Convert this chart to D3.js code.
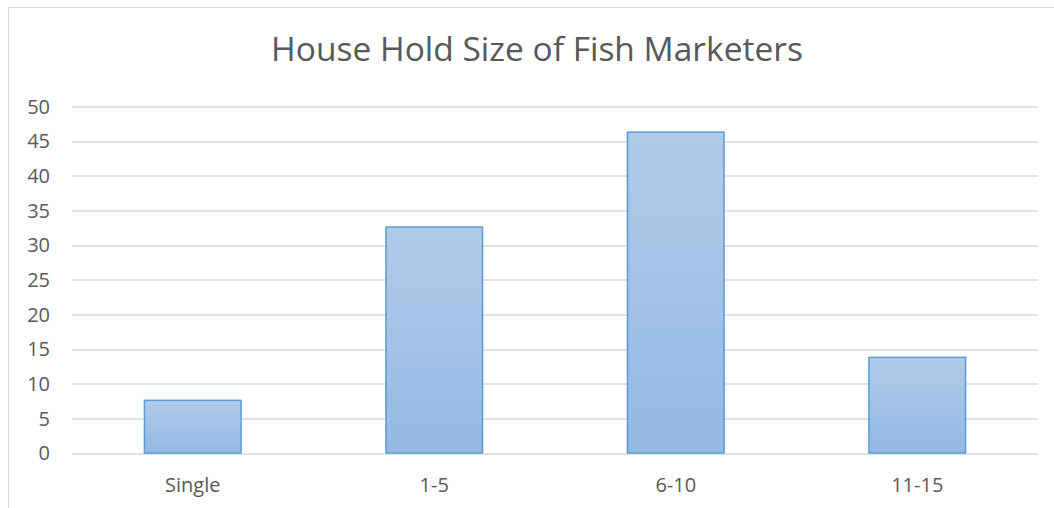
<!DOCTYPE html>
<html>
<head>
<meta charset="utf-8">
<script src="https://cdn.jsdelivr.net/npm/d3@7"></script>
<style>
body{margin:0;background:#fff;}
text{font-family:"Open Sans",sans-serif;fill:#595959;}
</style>
</head>
<body>
<div id="root"></div>
<script>
var categories=['Single','1-5','6-10','11-15'];
var values=[7.6,32.6,46.3,13.8];
var yTicks=[0,5,10,15,20,25,30,35,40,45,50];

var W=1054,H=508;
var b={t:106.5,l:72,r:16,b:55};
var w=W-b.l-b.r, h=H-b.t-b.b;

var svg=d3.select('#root').append('svg').attr('width',W).attr('height',H);

// chart frame
svg.append('rect').attr('x',8.5).attr('y',7.5).attr('width',1060).attr('height',520)
	.attr('fill','none').attr('stroke','#d9d9d9');

var defs=svg.append('defs');
var grad=defs.append('linearGradient').attr('id','barfill').attr('x1',0).attr('y1',0).attr('x2',0).attr('y2',1);
grad.append('stop').attr('offset','0%').attr('stop-color','#b1cbe9');
grad.append('stop').attr('offset','100%').attr('stop-color','#94b9e3');

var g=svg.append('g').attr('transform','translate('+b.l+','+b.t+')');

var x=d3.scaleBand().domain(categories).range([0,w]).paddingInner(0.6).paddingOuter(0.3);
var y=d3.scaleLinear().domain([0,50]).range([h,0]);

g.selectAll('.grid').data(yTicks).enter().append('line')
	.attr('x1',0).attr('x2',w)
	.attr('y1',function(d){return Math.round(y(d))+0.5}).attr('y2',function(d){return Math.round(y(d))+0.5})
	.attr('stroke','#d9d9d9').attr('stroke-width',1.3);

g.selectAll('.ylab').data(yTicks).enter().append('text')
	.attr('x',-22).attr('y',function(d){return y(d)}).attr('dy','0.36em')
	.attr('text-anchor','end').style('font-size','20px').text(function(d){return d});

g.selectAll('.bar').data(values).enter().append('rect')
	.attr('x',function(d,i){return x(categories[i])}).attr('width',x.bandwidth())
	.attr('y',function(d){return y(d)}).attr('height',function(d){return h-y(d)})
	.attr('fill','url(#barfill)').attr('stroke','#5b9bd5').attr('stroke-width',1.5);

g.selectAll('.xlab').data(categories).enter().append('text')
	.attr('x',function(d){return x(d)+x.bandwidth()/2}).attr('y',h+39)
	.attr('text-anchor','middle').style('font-size','20px').text(function(d){return d});

svg.append('text').attr('x',537).attr('y',61).attr('text-anchor','middle')
	.style('font-size','33.5px').text('House Hold Size of Fish Marketers');
</script>
</body>
</html>
